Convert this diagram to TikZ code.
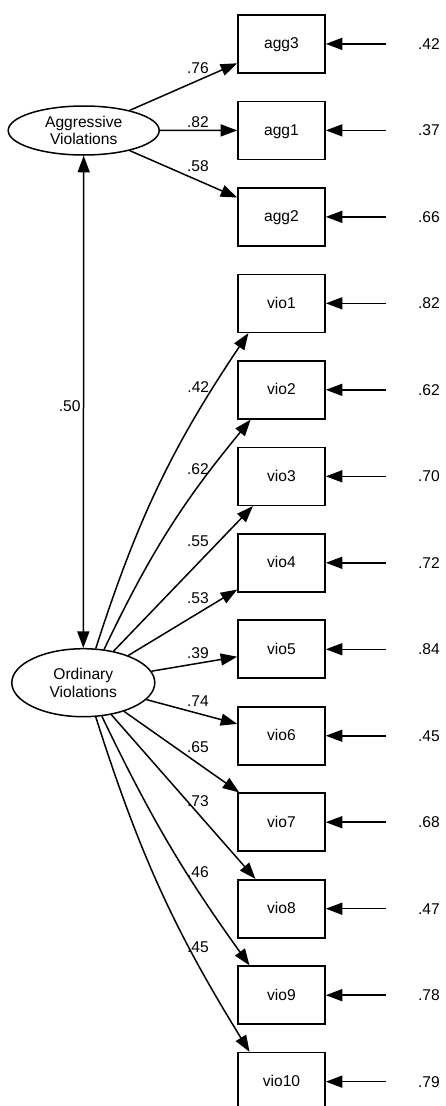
\documentclass[tikz,border=0pt]{standalone}
\usepackage{fontspec}
\setmainfont{Liberation Sans}
\usetikzlibrary{arrows.meta,shapes.geometric}
\begin{document}
\begin{tikzpicture}[x=1pt,y=-1pt,
  every node/.style={font=\fontsize{15.6}{17.6}\selectfont},
  obs/.style={draw,line width=1.6pt,minimum width=87pt,minimum height=58pt,inner sep=0pt,text height=11.2pt,text depth=1.4pt},
  lat/.style={draw,ellipse,line width=1.5pt,inner sep=0pt,align=center},
  pth/.style={line width=1.5pt,-{Triangle[length=16.5pt,width=12pt]}},
  cov/.style={line width=1.5pt,{Triangle[length=16.5pt,width=12pt]}-{Triangle[length=16.5pt,width=12pt]}},
  coef/.style={inner sep=0pt},
]
\useasboundingbox (0,0) rectangle (446,1106);

% latent variables
\node[lat,minimum width=151pt,minimum height=49pt] (ag) at (83.7,130.5) {Aggressive\\Violations};
\node[lat,minimum width=143pt,minimum height=68pt] (ov) at (83.3,682.7) {Ordinary\\Violations};

% observed variables
\node[obs] (agg3) at (281.5,43.9) {agg3};
\node[obs] (agg1) at (281.5,130.38) {agg1};
\node[obs] (agg2) at (281.5,216.86) {agg2};
\node[obs] (vio1) at (281.5,303.34) {vio1};
\node[obs] (vio2) at (281.5,389.82) {vio2};
\node[obs] (vio3) at (281.5,476.3) {vio3};
\node[obs] (vio4) at (281.5,562.78) {vio4};
\node[obs] (vio5) at (281.5,649.26) {vio5};
\node[obs] (vio6) at (281.5,735.74) {vio6};
\node[obs] (vio7) at (281.5,822.22) {vio7};
\node[obs] (vio8) at (281.5,908.7) {vio8};
\node[obs] (vio9) at (281.5,995.18) {vio9};
\node[obs] (vio10) at (281.5,1081.66) {vio10};

% error terms
\coordinate (e1) at (386,43.9);
\coordinate (e2) at (386,130.38);
\coordinate (e3) at (386,216.86);
\coordinate (e4) at (386,303.34);
\coordinate (e5) at (386,389.82);
\coordinate (e6) at (386,476.3);
\coordinate (e7) at (386,562.78);
\coordinate (e8) at (386,649.26);
\coordinate (e9) at (386,735.74);
\coordinate (e10) at (386,822.22);
\coordinate (e11) at (386,908.7);
\coordinate (e12) at (386,995.18);
\coordinate (e13) at (386,1081.66);
\draw[pth] (e1) -- (agg3.east);
\draw[pth] (e2) -- (agg1.east);
\draw[pth] (e3) -- (agg2.east);
\draw[pth] (e4) -- (vio1.east);
\draw[pth] (e5) -- (vio2.east);
\draw[pth] (e6) -- (vio3.east);
\draw[pth] (e7) -- (vio4.east);
\draw[pth] (e8) -- (vio5.east);
\draw[pth] (e9) -- (vio6.east);
\draw[pth] (e10) -- (vio7.east);
\draw[pth] (e11) -- (vio8.east);
\draw[pth] (e12) -- (vio9.east);
\draw[pth] (e13) -- (vio10.east);
\node[coef] (r1) at (429,43.9) {.42};
\node[coef] (r2) at (429,130.38) {.37};
\node[coef] (r3) at (429,216.86) {.66};
\node[coef] (r4) at (429,303.34) {.82};
\node[coef] (r5) at (429,389.82) {.62};
\node[coef] (r6) at (429,476.3) {.70};
\node[coef] (r7) at (429,562.78) {.72};
\node[coef] (r8) at (429,649.26) {.84};
\node[coef] (r9) at (429,735.74) {.45};
\node[coef] (r10) at (429,822.22) {.68};
\node[coef] (r11) at (429,908.7) {.47};
\node[coef] (r12) at (429,995.18) {.78};
\node[coef] (r13) at (429,1081.66) {.79};

% loadings
\draw[pth] (ag) -- (agg3);
\draw[pth] (ag) -- (agg1);
\draw[pth] (ag) -- (agg2);
\draw[pth] (ov.70) to[bend left=8] (vio1.222);
\draw[pth] (ov.58) to[bend left=7] (vio2.224);
\draw[pth] (ov) -- (vio3);
\draw[pth] (ov) -- (vio4);
\draw[pth] (ov) -- (vio5);
\draw[pth] (ov) -- (vio6);
\draw[pth] (ov) -- (vio7);
\draw[pth] (ov) -- (vio8);
\draw[pth] (ov.-61) to[bend right=5] (vio9.137);
\draw[pth] (ov.-70) to[bend right=7] (vio10.137);

% covariance
\draw[cov] (ag) -- (ov);

% coefficient labels
\node[coef] (l1) at (198,68) {.76};
\node[coef] (l2) at (198,121.7) {.82};
\node[coef] (l3) at (198,165.7) {.58};
\node[coef] (l4) at (69.7,405.7) {.50};
\node[coef] (l5) at (198.3,386.7) {.42};
\node[coef] (l6) at (198,469) {.62};
\node[coef] (l7) at (198,541) {.55};
\node[coef] (l8) at (198,597.7) {.53};
\node[coef] (l9) at (198,652.7) {.39};
\node[coef] (l10) at (198,700.7) {.74};
\node[coef] (l11) at (198,746.7) {.65};
\node[coef] (l12) at (198,800.7) {.73};
\node[coef] (l13) at (198,871.7) {.46};
\node[coef] (l14) at (198,946.7) {.45};
\end{tikzpicture}
\end{document}
